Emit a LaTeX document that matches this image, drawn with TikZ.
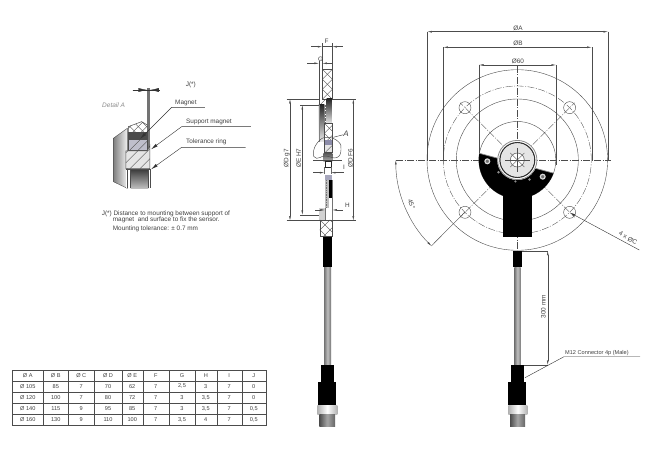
\documentclass[tikz,border=0pt]{standalone}
\usepackage{fontspec}
\setmainfont{Liberation Sans}
\usetikzlibrary{arrows.meta,calc}
\definecolor{ln}{gray}{0.3}
\definecolor{tx}{gray}{0.25}
\newcommand{\crosshatch}[4]{% x1 y1 x2 y2 (y negative, y1 top)
  \begin{scope}
    \clip (#1,#2) rectangle (#3,#4);
    \foreach \t in {-180,-150,...,180}{
      \draw[hatchline] (#1+\t,#2) -- ++(200,-200);
      \draw[hatchline] (#1+\t,#2) -- ++(-200,-200);
    }
  \end{scope}}
\newcommand{\trow}[3]{%
  \foreach \v [count=\i] in {#3}{
    \pgfmathsetmacro{\cx}{{27.8,55.8,81.3,108,132.2,155.8,182,205.8,229.2,253.8}[\i-1]}
    \node[cell] (r#1c\i) at (\cx,-#2) {\v};
  }}
\tikzset{
  thin line/.style={draw=ln,line width=0.4pt},
  center line/.style={draw=ln,line width=0.35pt,dash pattern=on 7pt off 1.5pt on 1pt off 1.5pt},
  dim/.style={draw=ln,line width=0.4pt,{Latex[length=4.5pt,width=1.8pt]}-{Latex[length=4.5pt,width=1.8pt]}},
  leader/.style={draw=black!80,line width=0.4pt},
  label/.style={font=\fontsize{6.4}{7}\selectfont,text=tx,inner sep=0pt},
  cell/.style={font=\fontsize{5.6}{6}\selectfont,text=tx,inner sep=0pt},
  hatchline/.style={draw=black!70,line width=0.35pt},
}
\begin{document}
\begin{tikzpicture}[x=1pt,y=1pt]
\useasboundingbox (0,-449) rectangle (666,0);
\fill[white] (0,-449) rectangle (666,0);

% ---------- DETAIL A (zoom coordinates)
\begin{scope}[shift={(90pt,-70pt)},x=0.3333pt,y=0.3333pt]
  \shade[left color=black!50,right color=black!5]
    (70,-205) -- (112,-175) -- (112,-355) -- (70,-335) -- cycle;
  \draw[thin line] (70,-205) -- (112,-175) -- (112,-355) -- (70,-335) -- cycle;
  \fill[black!55] (172,-55) rectangle (180,-240);
  \fill[white] (115,-185) -- (115,-170) -- (155,-155) -- (172,-165) -- (172,-187) -- cycle;
  \begin{scope}
    \clip (115,-187) -- (115,-170) -- (155,-155) -- (172,-165) -- (172,-187) -- cycle;
    \foreach \t in {100,125,150}{\draw[hatchline] (\t,-190) -- ++(40,40);\draw[hatchline] (\t,-150) -- ++(40,-40);}
  \end{scope}
  \draw[black!70,line width=0.5pt] (115,-187) -- (115,-170) -- (155,-155) -- (172,-165) -- (172,-187) -- cycle;
  \fill[black!70] (115,-187) rectangle (172,-210);
  \fill[blue!20!black!25] (115,-210) rectangle (172,-240);
  \draw[hatchline] (120,-240) -- (150,-210) (145,-240) -- (172,-213);
  \draw[black!70,line width=0.5pt] (115,-187) rectangle (172,-240);
  \fill[black!10] (108,-243) -- (172,-243) -- (180,-225) -- (180,-296) -- (108,-296) -- cycle;
  \begin{scope}
    \clip (108,-243) -- (172,-243) -- (180,-225) -- (180,-296) -- (108,-296) -- cycle;
    \foreach \t in {60,90,...,180}{\draw[hatchline] (\t,-296) -- ++(70,70);}
  \end{scope}
  \draw[black!70,line width=0.5pt] (108,-243) -- (172,-243) -- (180,-225) -- (180,-296) -- (108,-296) -- cycle;
  \fill[white] (108,-298) rectangle (180,-355);
  \shade[top color=black!75,bottom color=black!25] (122,-300) rectangle (175,-355);
  \draw[black!70,line width=0.5pt] (108,-298) -- (180,-298) -- (180,-355) (112,-298) -- (112,-355) (120,-298) -- (120,-355) (175,-298) -- (175,-355);
  \draw[leader] (128,-60) -- (208,-60);
  \draw[leader,-{Latex[length=9pt,width=4pt]}] (128,-60) -- (172,-60);
  \draw[leader,-{Latex[length=9pt,width=4pt]}] (208,-60) -- (180,-60);
  \node[label,anchor=west] (jlab) at (287,-46) {J(*)};
  \node[label,anchor=west,text=black!45,font=\fontsize{6.5}{7}\selectfont\itshape] (dlab) at (36,-105) {Detail A};
  \node[label,anchor=west] (mlab) at (255,-98) {Magnet};
  \node[label,anchor=west] (slab) at (288,-157) {Support magnet};
  \node[label,anchor=west] (tlab) at (288,-216) {Tolerance ring};
  \draw[leader,-{Latex[length=7pt,width=3pt]}] (345,-112) -- (245,-112) -- (150,-207);
  \draw[leader,-{Latex[length=7pt,width=3pt]}] (483,-170) -- (275,-170) -- (183,-238);
  \draw[leader,-{Latex[length=7pt,width=3pt]}] (467,-232) -- (275,-232) -- (183,-298);
  \node[label,anchor=west] (n1) at (35,-432) {J(*) Distance to mounting between support of};
  \node[label,anchor=west] (n2) at (68,-450) {magnet\ \ and surface to fix the sensor.};
  \node[label,anchor=west] (n3) at (68,-477) {Mounting tolerance: ± 0.7 mm};
\end{scope}

% ---------- SECTION VIEW (zoom coordinates)
\begin{scope}[shift={(270pt,-30pt)},x=0.3333pt,y=0.3333pt]
  \crosshatch{157}{-118}{186}{-207}
  \draw[black!70,line width=0.4pt] (157,-118) rectangle (186,-207);
  \begin{scope}\clip (150,-207) rectangle (170,-225);
    \draw[hatchline] (150,-225) -- ++(18,18);\end{scope}
  \shade[top color=black!85,bottom color=black!8] (147,-225) rectangle (163,-335);
  \shade[top color=black!85,bottom color=black!10] (170,-207) rectangle (186,-280);
  \draw[black!50,line width=0.3pt] (147,-225) -- (147,-335) (163,-225) -- (163,-335);
  \draw[black!60,densely dotted,line width=0.4pt] (167,-225) -- (167,-280);
  \crosshatch{163}{-280}{186}{-328}
  \fill[blue!25!black!45] (163,-330) rectangle (186,-345);
  \fill[black!10] (163,-345) rectangle (186,-368);
  \draw[hatchline] (165,-368) -- (186,-347);
  \draw[black!70,line width=0.4pt] (163,-280) rectangle (186,-368);
  \shade[top color=black!65,bottom color=black!30] (160,-370) rectangle (187,-395);
  \draw[black!85,line width=0.6pt] (165,-395) rectangle (183,-412);
  \draw[black!60,line width=0.4pt] (163,-412) -- (163,-432) (185,-412) -- (185,-432);
  \fill[blue!25!black!35] (165,-434) rectangle (187,-450);
  \fill[black!25] (165,-450) rectangle (176,-535);
  \draw[black!55,densely dotted,line width=0.7pt] (170,-450) -- (170,-535);
  \fill[black] (177,-450) rectangle (185,-505);
  \fill[black!18] (147,-535) rectangle (165,-570);
  \draw[black!55,line width=0.3pt] (165,-535) -- (165,-570) (187,-450) -- (187,-570);
  \crosshatch{150}{-570}{187}{-620}
  \draw[black!70,line width=0.4pt] (150,-570) rectangle (187,-620);
  \fill[black] (160,-620) rectangle (187,-630);
  % dimensions
  \draw[thin line] (157,-40) -- (157,-118) (187,-40) -- (187,-118);
  \draw[thin line] (147,-92) -- (147,-225);
  \draw[thin line,{Latex[length=4.5pt,width=1.8pt]}-] (157,-50) -- (124,-50);
  \draw[thin line,{Latex[length=4.5pt,width=1.8pt]}-] (187,-50) -- (218,-50);
  \draw[thin line] (157,-50) -- (187,-50);
  \node[label] (flab) at (170,-35) {F};
  \draw[thin line,{Latex[length=4.5pt,width=1.8pt]}-] (147,-100) -- (112,-100);
  \draw[thin line,{Latex[length=4.5pt,width=1.8pt]}-] (157,-100) -- (190,-100);
  \node[label] (glab) at (152,-87) {G};
  \draw[thin line] (50,-207) -- (147,-207) (186,-207) -- (258,-207);
  \draw[thin line] (50,-572) -- (150,-572) (187,-572) -- (258,-572);
  \draw[thin line] (90,-225) -- (147,-225) (90,-555) -- (147,-555);
  \draw[dim] (60,-207) -- (60,-572);
  \draw[dim] (97,-225) -- (97,-555);
  \draw[dim] (250,-207) -- (250,-572);
  \node[label,rotate=90] (dg) at (50,-385) {ØD g7};
  \node[label,rotate=90] (eh) at (86,-385) {ØE H7};
  \node[label,rotate=90] (df) at (241,-385) {ØD F6};
  \draw[thin line,{Latex[length=4.5pt,width=1.8pt]}-] (163,-428) -- (128,-428);
  \draw[thin line,{Latex[length=4.5pt,width=1.8pt]}-] (183,-428) -- (222,-428);
  \node[label] (ilab) at (222,-412) {I};
  \draw[thin line] (130,-390) -- (215,-390);
  \draw[thin line,{Latex[length=4.5pt,width=1.8pt]}-] (165,-540) -- (135,-540);
  \draw[thin line,{Latex[length=4.5pt,width=1.8pt]}-] (187,-540) -- (218,-540);
  \node[label] (hlab) at (232,-525) {H};
  \draw[thin line,line width=0.45pt] plot[smooth cycle,tension=0.8] coordinates {(130,-368) (145,-335) (172,-322) (205,-335) (213,-360) (200,-383) (165,-378) (140,-385)};
  \node[label,font=\fontsize{8}{9}\selectfont\itshape] (alab) at (228,-312) {A};
  \draw[leader] (alab) -- (190,-322);
\end{scope}

% ---------- TOP VIEW
\coordinate (C) at (517.3,-160);
\draw[thin line] (427.3,-31.7) -- (427.3,-160) (608,-31.7) -- (608,-160);
\draw[thin line] (443.3,-47.3) -- (443.3,-160) (591.7,-47.3) -- (591.7,-160);
\draw[thin line] (479,-65) -- (479,-155) (556,-65) -- (556,-165);
\draw[dim] (427.3,-31.7) -- (608,-31.7);
\draw[dim] (443.3,-47.3) -- (591.7,-47.3);
\draw[dim] (479,-65) -- (556,-65);
\node[label] (la) at (518,-28) {ØA};
\node[label] (lb) at (518,-43) {ØB};
\node[label] (l60) at (518,-61) {Ø60};
\draw[thin line] (C) circle[radius=90.3];
\draw[thin line] (C) circle[radius=61];
\draw[center line] (C) circle[radius=74];
\draw[thin line] (C) circle[radius=38.5];
% centre lines
\draw[center line] (396,-160) -- (610.7,-160);
\draw[center line] (517.3,-66) -- (517.3,-250);
\foreach \a in {45,135,225,315}{
  \draw[center line] (C) -- ++(\a:81);
  \draw[thin line] (C) ++(\a:74) circle[radius=6];
}
% black sensor
\fill[black] (C) ++(170:38.5) arc[start angle=170,end angle=340,radius=38.5] -- cycle;
\fill[black] (503.3,-190) rectangle (531.7,-236.7);
\draw[black!45,line width=0.7pt] ($(C)+(170:38.5)$) -- ($(C)+(340:38.5)$);
\fill[black!45] (C) ++(213:22.5) circle[radius=1.4] (C) ++(302:23) circle[radius=1.4] (C) ++(265:21.5) circle[radius=1.2];
\fill[white] (C) circle[radius=20];
\draw[black!45,line width=0.8pt] (C) circle[radius=19.6];
\draw[black!80,line width=1.2pt] (C) circle[radius=17.4];
\fill[black!10] (C) circle[radius=16.5];
\fill[white] (C) circle[radius=7];
\draw[black!60,line width=0.6pt] (C) circle[radius=7];
\draw[ln,line width=0.35pt] (C) ++(45:10) -- ++(225:20) (C) ++(135:10) -- ++(315:20);
\draw[ln,line width=0.35pt] (505,-160) -- (530,-160) (517.3,-148) -- (517.3,-172);
\draw[black!15,line width=1.2pt,fill=black!55] (487.3,-161.3) circle[radius=2.4];
\draw[black!15,line width=1.2pt,fill=black!55] (542.7,-176.7) circle[radius=2.4];
% 45 degree dimension
\draw[ln,line width=0.4pt,{Latex[length=4.5pt,width=1.8pt]}-{Latex[length=4.5pt,width=1.8pt]}] (C) ++(180:121.5) arc[start angle=180,end angle=225,radius=121.5];
\draw[thin line] (431.3,-246) -- (465,-212);
\node[label,rotate=-67] (l45) at (411.5,-204.3) {45°};
\coordinate (hole) at (570,-212.7);
\draw[leader,{Latex[length=5pt,width=2pt]}-] (hole) -- (639.3,-250);
\node[label,rotate=-30] (lc) at (628,-238) {4 x ØC};

% cable & connector, top view
\fill[black] (513.3,-250.7) rectangle (521.7,-267.3);
\shade[left color=black!55,right color=black!50,middle color=black!25] (514.3,-267.3) rectangle (520.5,-365);
\fill[black] (510.7,-365) rectangle (524.3,-382);
\fill[black] (508.3,-382) rectangle (526,-405);
\shade[left color=black!30,right color=black!30,middle color=white] (508.3,-405) rectangle (527.3,-414);
\shade[left color=black!70,right color=black!60,middle color=black!35] (510,-414) rectangle (525,-426);
\draw[thin line] (521.7,-250.7) -- (548,-250.7) (524.3,-365) -- (548,-365);
\draw[dim] (547.7,-250.7) -- (547.7,-365);
\node[label,rotate=90,font=\fontsize{6.5}{7}\selectfont] (l300) at (543.5,-306.7) {300 mm};
\draw[leader] (525,-377.7) -- (564,-356.7) -- (640,-356.7);
\node[label,anchor=west,font=\fontsize{5.6}{6}\selectfont] (lm) at (565,-353) {M12 Connector 4p (Male)};

% cable & connector, section view
\fill[black] (323.3,-236.7) rectangle (331.7,-267.3);
\shade[left color=black!55,right color=black!55,middle color=black!25] (324,-267.3) rectangle (331,-365);
\fill[black] (320.7,-365) rectangle (334,-382);
\fill[black] (318.3,-382) rectangle (336,-405);
\shade[left color=black!30,right color=black!30,middle color=white] (317.3,-405) rectangle (337.3,-414);
\shade[left color=black!70,right color=black!60,middle color=black!35] (319.3,-414) rectangle (335,-426);

% ---------- TABLE
\draw[ln,line width=0.5pt] (12.3,-370) rectangle (266,-425);
\foreach \y in {380.7,391.7,403.3,414.3}{\draw[ln,line width=0.4pt] (12.3,-\y) -- (266,-\y);}
\foreach \x in {43.3,68.3,94.3,121.7,142.7,169,195,216.7,241.7}{\draw[ln,line width=0.4pt] (\x,-370) -- (\x,-425);}
\trow{0}{375.3}{Ø A,Ø B,Ø C,Ø D,Ø E,F,G,H,I,J}
\trow{1}{386.2}{Ø 105,85,7,70,62,7,{2,5},3,7,0}
\trow{2}{397.5}{Ø 120,100,7,80,72,7,3,{3,5},7,0}
\trow{3}{408.8}{Ø 140,115,9,95,85,7,3,{3,5},7,{0,5}}
\trow{4}{419.7}{Ø 160,130,9,110,100,7,{3,5},4,7,{0,5}}
\end{tikzpicture}
\end{document}
